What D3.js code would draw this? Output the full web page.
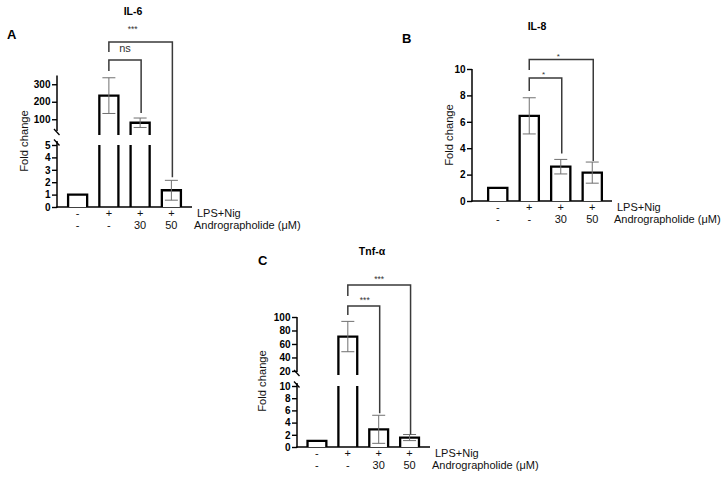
<!DOCTYPE html>
<html>
<head>
<meta charset="utf-8">
<script src="https://cdn.jsdelivr.net/npm/d3@7"></script>
<style>
  html, body { margin: 0; padding: 0; background: #fff; }
  svg { display: block; }
  text { font-family: 'Liberation Sans', Arial, sans-serif; }
</style>
</head>
<body>
<svg id="chart" width="725" height="478"></svg>
<script>
// ---------------- DATA ----------------
const groups = ["Ctrl", "LPS+Nig", "LPS+Nig+Andro30", "LPS+Nig+Andro50"];
const lpsRow = ["-", "+", "+", "+"];
const andrographolideRow = ["-", "-", "30", "50"];
const rowLabels = ["LPS+Nig", "Andrographolide (μM)"];

const il6Mean = [1, 235, 80, 1.35];
const il6Err  = [0, 102, 27, 0.8];
const il6TicksLow = [0, 1, 2, 3, 4, 5];
const il6TicksHigh = [100, 200, 300];
const il6Comparisons = [{a: 1, b: 2, label: "ns"}, {a: 1, b: 3, label: "***"}];

const il8Mean = [1, 6.45, 2.6, 2.15];
const il8Err  = [0, 1.37, 0.55, 0.8];
const il8Ticks = [0, 2, 4, 6, 8, 10];
const il8Comparisons = [{a: 1, b: 2, label: "*"}, {a: 1, b: 3, label: "*"}];

const tnfMean = [1, 71, 2.9, 1.55];
const tnfErr  = [0, 22.5, 2.3, 0.5];
const tnfTicksLow = [0, 2, 4, 6, 8, 10];
const tnfTicksHigh = [20, 40, 60, 80, 100];
const tnfComparisons = [{a: 1, b: 2, label: "***"}, {a: 1, b: 3, label: "***"}];

// ---------------- LAYOUT ----------------
const svg = d3.select("#chart");

const panels = [
  {
    letter: "A", letterPos: [7, 38.5], title: "IL-6", titlePos: [133, 14.5],
    mean: il6Mean, err: il6Err,
    axisX: 57, xRange: [62, 187], xAxisEnd: 192,
    low: {domain: [0, 5], range: [207, 145], ticks: il6TicksLow, axisTop: 141},
    high: {domain: [10, 350], range: [135, 75.5], ticks: il6TicksHigh, axisBottom: 131},
    ylabelPos: [28, 141],
    comparisons: il6Comparisons,
    bracketY: [60, 42], leftLen: [11, 10], gap: [5, 3],
    labelDy: [8, 10], labelDx: [0, -8], labelSize: [11, 8.5]
  },
  {
    letter: "B", letterPos: [402, 43], title: "IL-8", titlePos: [537, 30],
    mean: il8Mean, err: il8Err,
    axisX: 472, xRange: [482, 608], xAxisEnd: 612,
    low: {domain: [0, 10], range: [201, 69], ticks: il8Ticks},
    high: null,
    ylabelPos: [453, 135],
    comparisons: il8Comparisons,
    bracketY: [78, 59.5], leftLen: [13, 10.5], gap: [6, 1],
    labelDy: [1, 1], labelDx: [-2, -3], labelSize: [8, 8]
  },
  {
    letter: "C", letterPos: [258, 265], title: "Tnf-α", titlePos: [372, 255],
    mean: tnfMean, err: tnfErr,
    axisX: 297, xRange: [301.5, 425], xAxisEnd: 430,
    low: {domain: [0, 10], range: [447, 386], ticks: tnfTicksLow, axisTop: 383},
    high: {domain: [14, 100], range: [375, 317], ticks: tnfTicksHigh, axisBottom: 372},
    ylabelPos: [266, 381],
    comparisons: tnfComparisons,
    bracketY: [306, 285], leftLen: [9, 11], gap: [2, 0],
    labelDy: [3.5, 3.5], labelDx: [1, 0], labelSize: [8.5, 8.5]
  }
];

const BAR_STROKE = 2.3;
const CAP_W = 13;

function drawPanel(p) {
  const g = svg.append("g");
  const x = d3.scaleBand().domain(groups).range(p.xRange).paddingInner(0.39).paddingOuter(0.195);
  const bw = x.bandwidth();
  const cx = i => x(groups[i]) + bw / 2;
  const yLow = d3.scaleLinear().domain(p.low.domain).range(p.low.range);
  const yHigh = p.high ? d3.scaleLinear().domain(p.high.domain).range(p.high.range) : null;
  const lowMax = p.low.domain[1];
  const y = v => (yHigh && v > lowMax) ? yHigh(v) : yLow(v);
  const base = yLow(0);

  // letter & title
  g.append("text").attr("x", p.letterPos[0]).attr("y", p.letterPos[1])
    .attr("font-size", 13).attr("font-weight", "bold").text(p.letter);
  g.append("text").attr("x", p.titlePos[0]).attr("y", p.titlePos[1])
    .attr("text-anchor", "middle").attr("font-size", 10.5).attr("font-weight", "bold").text(p.title);

  // y axes
  function styleAxis(sel) {
    sel.select(".domain").remove();
    sel.selectAll(".tick line").attr("stroke", "#000").attr("stroke-width", 1.4);
    sel.selectAll(".tick text").attr("font-size", 10).attr("font-weight", "bold")
      .attr("fill", "#000").attr("font-family", "'Liberation Sans', Arial, sans-serif");
  }
  const axLow = g.append("g").attr("transform", `translate(${p.axisX},0)`)
    .call(d3.axisLeft(yLow).tickValues(p.low.ticks).tickSize(5).tickPadding(1.5).tickFormat(d3.format("d")));
  styleAxis(axLow);
  const lowTop = p.high ? p.low.axisTop : p.low.range[1];
  g.append("line").attr("x1", p.axisX).attr("x2", p.axisX).attr("y1", base + 0.7).attr("y2", lowTop)
    .attr("stroke", "#000").attr("stroke-width", 1.5);

  if (yHigh) {
    const axHigh = g.append("g").attr("transform", `translate(${p.axisX},0)`)
      .call(d3.axisLeft(yHigh).tickValues(p.high.ticks).tickSize(5).tickPadding(1.5).tickFormat(d3.format("d")));
    styleAxis(axHigh);
    g.append("line").attr("x1", p.axisX).attr("x2", p.axisX)
      .attr("y1", p.high.axisBottom).attr("y2", p.high.range[1])
      .attr("stroke", "#000").attr("stroke-width", 1.5);
    // break marks
    [p.high.axisBottom + 1, p.low.axisTop + 1.5].forEach(yy => {
      g.append("line").attr("x1", p.axisX - 3).attr("y1", yy - 3)
        .attr("x2", p.axisX + 2.5).attr("y2", yy + 3)
        .attr("stroke", "#000").attr("stroke-width", 1.3);
    });
  }

  // x axis line
  g.append("line").attr("x1", p.axisX - 0.7).attr("x2", p.xAxisEnd).attr("y1", base).attr("y2", base)
    .attr("stroke", "#000").attr("stroke-width", 1.5);

  // bars
  p.mean.forEach((v, i) => {
    const x0 = x(groups[i]), x1 = x0 + bw;
    if (yHigh && v > lowMax) {
      g.append("path")
        .attr("d", `M${x0},${base}V${yLow(lowMax)}M${x1},${base}V${yLow(lowMax)}`)
        .attr("fill", "none").attr("stroke", "#000").attr("stroke-width", BAR_STROKE);
      const hb = yHigh(p.high.domain[0]);
      g.append("path")
        .attr("d", `M${x0},${hb}V${yHigh(v)}H${x1}V${hb}`)
        .attr("fill", "#fff").attr("stroke", "#000").attr("stroke-width", BAR_STROKE)
        .attr("stroke-linejoin", "miter");
    } else {
      g.append("path")
        .attr("d", `M${x0},${base}V${y(v)}H${x1}V${base}`)
        .attr("fill", "#fff").attr("stroke", "#000").attr("stroke-width", BAR_STROKE)
        .attr("stroke-linejoin", "miter");
    }
  });

  // error bars
  p.err.forEach((e, i) => {
    if (!e) return;
    const v = p.mean[i];
    const c = cx(i);
    const lo = y(v - e), hi = y(v + e);
    g.append("path")
      .attr("d", `M${c},${lo}V${hi}M${c - CAP_W / 2},${hi}H${c + CAP_W / 2}M${c - CAP_W / 2},${lo}H${c + CAP_W / 2}`)
      .attr("fill", "none").attr("stroke", "#707070").attr("stroke-width", 1);
  });

  // significance brackets
  p.comparisons.forEach((cmp, k) => {
    const xa = cx(cmp.a), xb = cx(cmp.b) + 1;
    const by = p.bracketY[k];
    const rightEnd = y(p.mean[cmp.b] + p.err[cmp.b]) - p.gap[k];
    g.append("path")
      .attr("d", `M${xa},${by + p.leftLen[k]}V${by}H${xb}V${rightEnd}`)
      .attr("fill", "none").attr("stroke", "#3a3a3a").attr("stroke-width", 1.5);
    g.append("text").attr("x", (xa + xb) / 2 + p.labelDx[k]).attr("y", by - p.labelDy[k])
      .attr("text-anchor", "middle").attr("font-size", p.labelSize[k]).attr("fill", "#333")
      .text(cmp.label);
  });

  // category rows
  const rows = [lpsRow, andrographolideRow];
  rows.forEach((row, r) => {
    const ty = base + 10 + r * 12.3;
    row.forEach((lab, i) => {
      g.append("text").attr("x", cx(i)).attr("y", ty).attr("text-anchor", "middle")
        .attr("font-size", 11).attr("fill", "#111").text(lab);
    });
    g.append("text").attr("x", p.xAxisEnd + (r === 0 ? 5 : 2)).attr("y", ty)
      .attr("font-size", 11).attr("fill", "#111").text(rowLabels[r]);
  });

  // y label
  g.append("text")
    .attr("transform", `translate(${p.ylabelPos[0]},${p.ylabelPos[1]}) rotate(-90)`)
    .attr("text-anchor", "middle").attr("font-size", 11.2).attr("fill", "#111").text("Fold change");
}

panels.forEach(drawPanel);
</script>
</body>
</html>
